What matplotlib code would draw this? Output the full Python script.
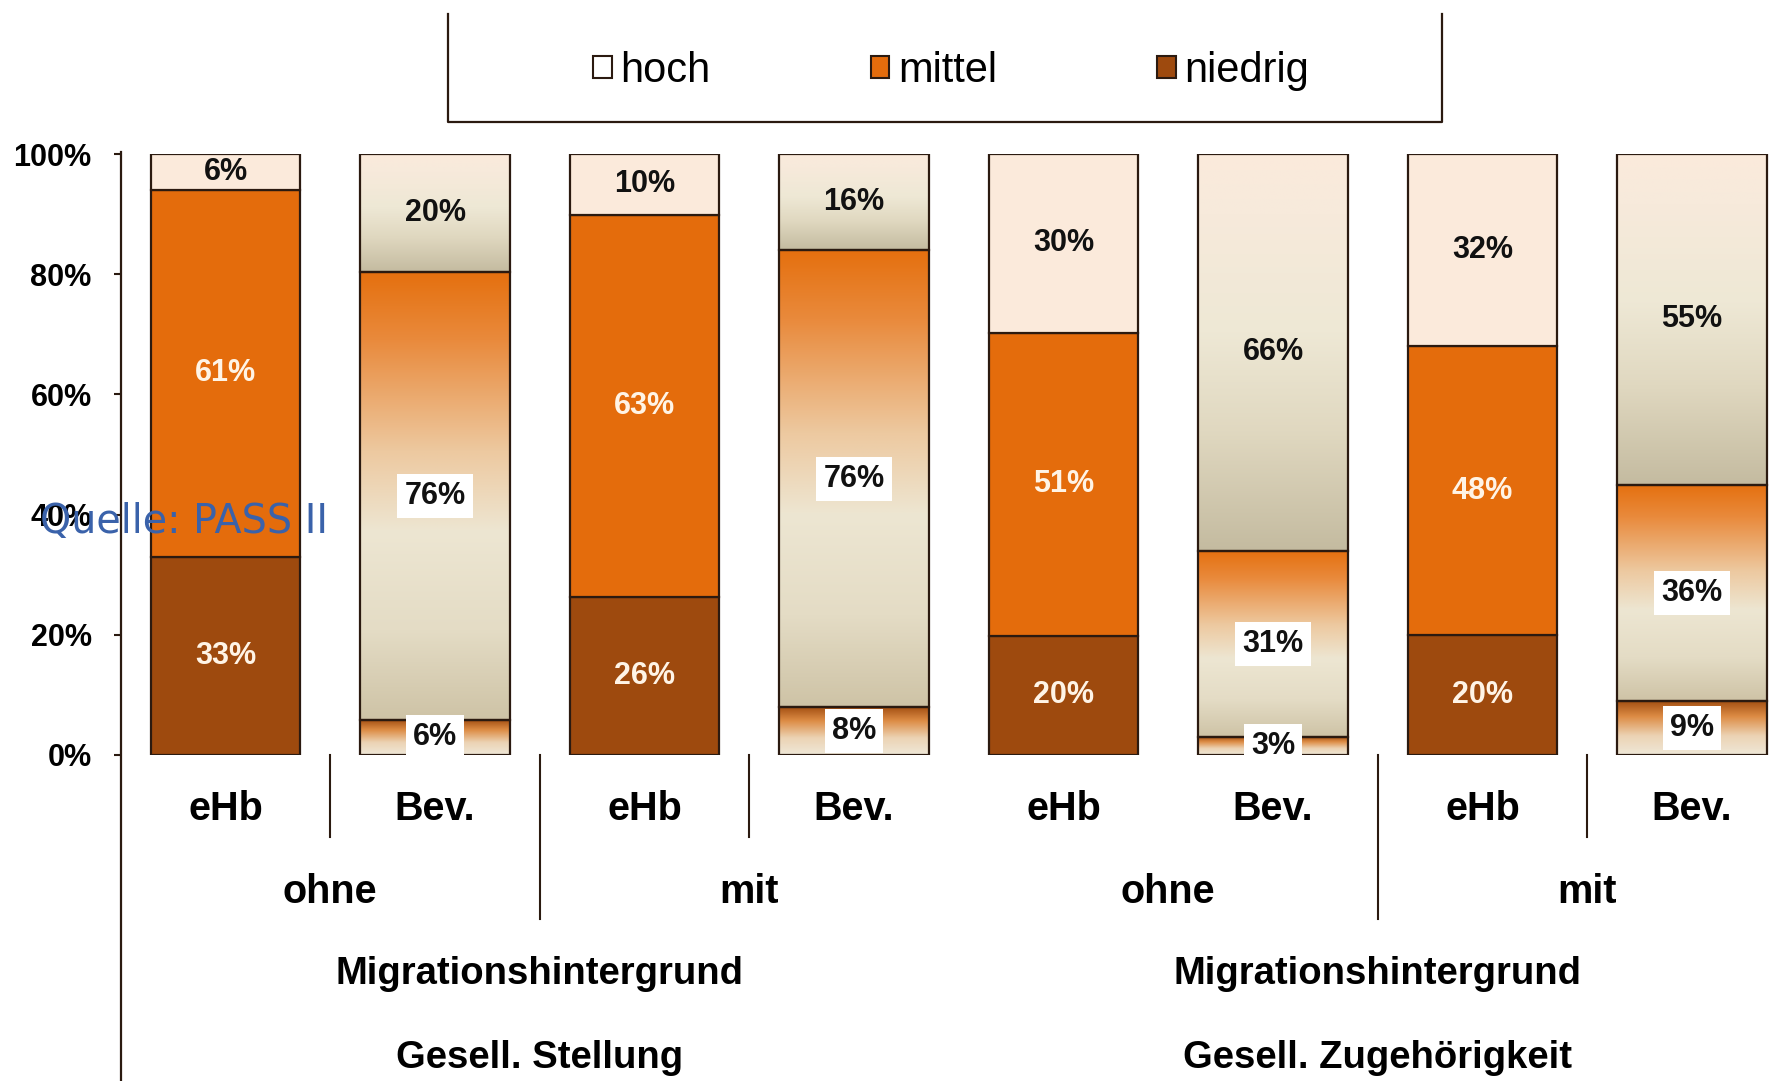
import matplotlib
matplotlib.use('Agg')
import matplotlib.pyplot as plt
import matplotlib.transforms as mtransforms
import numpy as np
from matplotlib import font_manager
from matplotlib.colors import LinearSegmentedColormap
from matplotlib.lines import Line2D
from matplotlib.patches import Patch

# data (values as printed on the bars; the chart is a 100% stacked column)
bar_labels = ['eHb', 'Bev.', 'eHb', 'Bev.', 'eHb', 'Bev.', 'eHb', 'Bev.']
niedrig = [33, 6, 26, 8, 20, 3, 20, 9]
mittel = [61, 76, 63, 76, 51, 31, 48, 36]
hoch = [6, 20, 10, 16, 30, 66, 32, 55]
migration = ['ohne', 'mit', 'ohne', 'mit']
migration_title = 'Migrationshintergrund'
dimensions = ['Gesell. Stellung', 'Gesell. Zugehörigkeit']
series_names = ['hoch', 'mittel', 'niedrig']
yticks = [0, 20, 40, 60, 80, 100]

names = {f.name for f in font_manager.fontManager.ttflist}
NARROW = 'Liberation Sans Narrow' if 'Liberation Sans Narrow' in names else 'Liberation Sans'

W, H = 1790, 1081
fig = plt.figure(figsize=(W / 100, H / 100), dpi=100)

# axes placed in pixel terms of the reference
x0_px, x_unit = 225.5, 209.5
xlim = (-0.5, 7.45)
left_px = x0_px + xlim[0] * x_unit
right_px = x0_px + xlim[1] * x_unit
top_px, zero_px = 154, 755
ax = fig.add_axes([left_px / W, 1 - zero_px / H, (right_px - left_px) / W, (zero_px - top_px) / H])
ax.set_xlim(*xlim)
ax.set_ylim(0, 1)

c_hoch = '#FBEADB'
c_mittel = '#E46C0C'
c_niedrig = '#9E4A0E'
edge = '#2B1A10'

cm_hoch = LinearSegmentedColormap.from_list('h', [(0, '#C4BBA0'), (0.3, '#E0D8C0'), (0.55, '#EEE8D5'),
                                                  (0.85, '#F7EADB'), (1, '#FBEADC')])
cm_mittel = LinearSegmentedColormap.from_list('m', [(0, '#CEC3A6'), (0.2, '#E4DCC5'), (0.42, '#EDE6D2'),
                                                    (0.6, '#EDC9A0'), (0.85, '#E98A3C'), (1, '#E5700F')])
cm_niedrig = LinearSegmentedColormap.from_list('n', [(0, '#EFE8D8'), (0.35, '#ECD3B4'), (0.7, '#DD8C45'),
                                                     (1, '#A04C10')])

width = 0.714
xs = np.arange(len(bar_labels))
grad = np.linspace(0, 1, 256).reshape(-1, 1)

for i, x in enumerate(xs):
    vals = [niedrig[i], mittel[i], hoch[i]]
    total = float(sum(vals))
    shares = [v / total for v in vals]
    bottom = 0.0
    for k, (v, s) in enumerate(zip(vals, shares)):
        solid = [c_niedrig, c_mittel, c_hoch][k]
        if bar_labels[i] == 'eHb':
            ax.bar(x, s, bottom=bottom, width=width, color=solid, edgecolor=edge, linewidth=1.6, zorder=3)
            tcol = '#FFF4E6' if k < 2 else '#111111'
            ax.text(x, bottom + s / 2, f'{v}%', ha='center', va='center', color=tcol,
                    fontsize=22, fontweight='bold', family=NARROW, zorder=5)
        else:
            patch = ax.bar(x, s, bottom=bottom, width=width, facecolor='none', edgecolor=edge,
                           linewidth=1.6, zorder=4)[0]
            cmap = [cm_niedrig, cm_mittel, cm_hoch][k]
            im = ax.imshow(grad, extent=(x - width / 2, x + width / 2, bottom, bottom + s), origin='lower',
                           aspect='auto', cmap=cmap, zorder=2, interpolation='bilinear')
            im.set_clip_path(patch)
            box = dict(facecolor='white', edgecolor='none', pad=5) if k < 2 else None
            ax.text(x, bottom + s / 2, f'{v}%', ha='center', va='center', color='#111111',
                    fontsize=22, fontweight='bold', family=NARROW, bbox=box, zorder=5)
        bottom += s

ax.set_xlim(*xlim)
ax.set_ylim(0, 1)
for sp in ax.spines.values():
    sp.set_visible(False)
ax.set_xticks([])
ax.set_yticks(np.array(yticks) / 100)
ax.set_yticklabels([f'{t}%' for t in yticks], fontsize=22, fontweight='bold', family=NARROW)
ax.tick_params(axis='y', length=5, width=1.5, pad=16, color=edge)

# y axis line running down to the bottom of the figure
fig.add_artist(Line2D([left_px / W] * 2, [1 - 152 / H, 0], color=edge, lw=1.6))

# category labels below the bars
tr = mtransforms.blended_transform_factory(ax.transData, fig.transFigure)
for x, lab in zip(xs, bar_labels):
    ax.text(x, 1 - 809 / H, lab, transform=tr, ha='center', va='center', fontsize=28.5,
            fontweight='bold', family=NARROW, clip_on=False)
for j, lab in enumerate(migration):
    ax.text(2 * j + 0.5, 1 - 892 / H, lab, transform=tr, ha='center', va='center', fontsize=28.5,
            fontweight='bold', family=NARROW, clip_on=False)
for j, lab in enumerate(dimensions):
    ax.text(4 * j + 1.5, 1 - 974 / H, migration_title, transform=tr, ha='center', va='center',
            fontsize=27.5, fontweight='bold', family=NARROW, clip_on=False)
    ax.text(4 * j + 1.5, 1 - 1058 / H, lab, transform=tr, ha='center', va='center', fontsize=27.5,
            fontweight='bold', family=NARROW, clip_on=False)

# separators between categories
zero_f = 1 - zero_px / H
for xsep, end_px in [(0.5, 837), (1.5, 919), (2.5, 837), (5.5, 919), (6.5, 837)]:
    ax.add_line(Line2D([xsep, xsep], [zero_f, 1 - end_px / H], transform=tr, color=edge, lw=1.5,
                       clip_on=False))

# legend in an open-topped box
handles = [Patch(facecolor=c, edgecolor=edge, linewidth=1.5) for c in ['#FFFFFF', c_mittel, c_niedrig]]
fig.legend(handles, series_names, ncol=3, loc='center', bbox_to_anchor=(951 / W, 1 - 71 / H),
           frameon=False, handlelength=0.45, handleheight=0.45, handletextpad=0.2, columnspacing=3.85,
           prop=dict(family=NARROW, size=30))
bx0, bx1, by0, by1 = 448 / W, 1442 / W, 1 - 122 / H, 1 - 14 / H
fig.add_artist(Line2D([bx0, bx0, bx1, bx1], [by1, by0, by0, by1], color=edge, lw=1.6))

fig.text(40 / W, 1 - 522 / H, 'Quelle: PASS II', color='#3A62AA', fontsize=28.5, family='DejaVu Sans',
         ha='left', va='center')

fig.savefig('out.png', dpi=100)
